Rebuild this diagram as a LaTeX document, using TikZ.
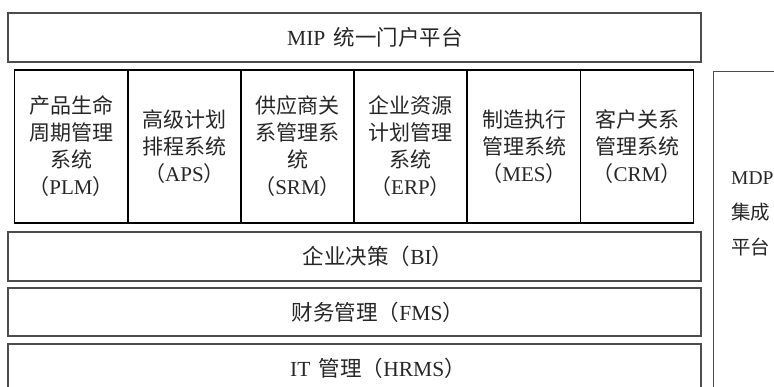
\documentclass[tikz,border=0pt]{standalone}
\usepackage{fontspec}
\setmainfont{Liberation Serif}
\newfontfamily\cjk{Noto Sans CJK SC}
\newcommand{\zh}[1]{{\cjk #1}}
\begin{document}
\begin{tikzpicture}[x=1pt,y=-1pt,
  band/.style={draw=black!70, line width=1.3pt, minimum width=693pt, inner sep=0pt},
  bandtext/.style={inner sep=0pt, font=\fontsize{21.5}{27}\selectfont, text=black!85},
  modbox/.style={draw=black, line width=1.8pt, minimum width=113pt, minimum height=153pt,
    inner sep=0pt, align=center, font=\fontsize{21}{27}\selectfont, text=black!85},
  side/.style={draw=black!70, line width=1.3pt, inner sep=0pt},
  sidetext/.style={anchor=west, inner sep=0pt, font=\fontsize{19.5}{35}\selectfont, align=left, text=black!85}]
\useasboundingbox (0,0) rectangle (774,387);
\clip (0,0) rectangle (774,387);
\node[band, minimum height=49pt] (mip) at (354.5,37.5) {};
\node[bandtext] (miptext) at (375,37.5) {MIP\,\zh{ 统一门户平台}};
\node[modbox] (plm) at (71,146.5) {\zh{产品生命}\\\zh{周期管理}\\\zh{系统}\\\zh{（}PLM\zh{）}};
\node[modbox] (aps) at (184.5,146.5) {\zh{高级计划}\\\zh{排程系统}\\\zh{（}APS\zh{）}};
\node[modbox] (srm) at (297.5,146.5) {\zh{供应商关}\\\zh{系管理系}\\\zh{统}\\\zh{（}SRM\zh{）}};
\node[modbox] (erp) at (410.5,146.5) {\zh{企业资源}\\\zh{计划管理}\\\zh{系统}\\\zh{（}ERP\zh{）}};
\node[modbox] (mes) at (524,146.5) {\zh{制造执行}\\\zh{管理系统}\\\zh{（}MES\zh{）}};
\node[modbox] (crm) at (637,146.5) {\zh{客户关系}\\\zh{管理系统}\\\zh{（}CRM\zh{）}};
\node[band, minimum height=49pt] (bi) at (354.5,256.5) {};
\node[bandtext] (bitext) at (378,256.5) {\zh{企业决策（}BI\zh{）}};
\node[band, minimum height=48pt] (fms) at (354.5,312) {};
\node[bandtext] (fmstext) at (378,312) {\zh{财务管理（}FMS\zh{）}};
\node[band, minimum height=49pt] (it) at (354.5,368.5) {};
\node[bandtext] (ittext) at (378,368.5) {IT\,\zh{ 管理（}HRMS\zh{）}};
\node[side, minimum width=80pt, minimum height=340pt, anchor=north west] (mdp) at (713,70.7) {};
\node[sidetext] (mdptext) at (731,214) {MDP\\\zh{集成}\\\zh{平台}};
\end{tikzpicture}
\end{document}
